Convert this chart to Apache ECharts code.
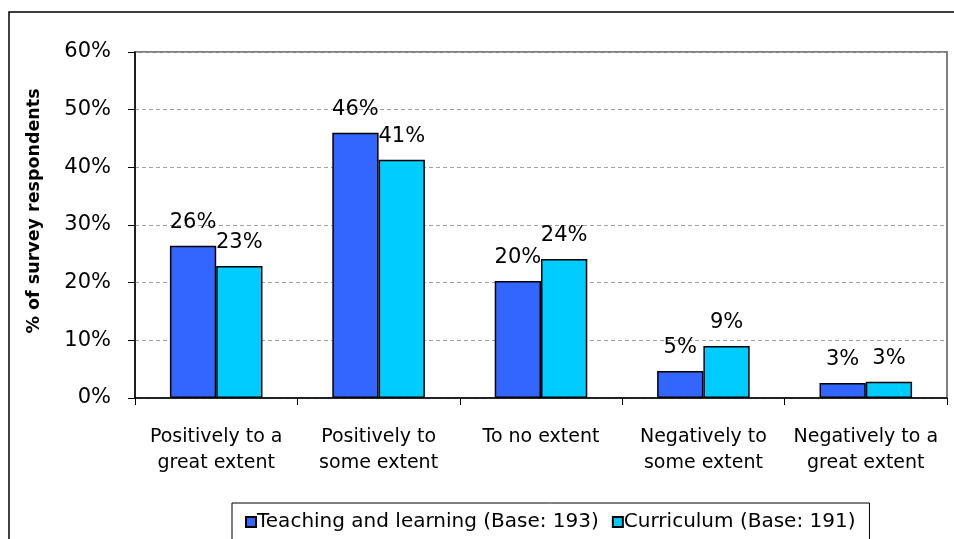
<!DOCTYPE html>
<html>
<head>
<meta charset="utf-8">
<script src="https://cdn.jsdelivr.net/npm/echarts@6/dist/echarts.min.js"></script>
<style>
  html, body { margin: 0; padding: 0; background: #fff; }
  #main { width: 954px; height: 539px; }
</style>
</head>
<body>
<div id="main"></div>
<script>
// categories and values
var categories = ['Positively to a\ngreat extent', 'Positively to\nsome extent', 'To no extent', 'Negatively to\nsome extent', 'Negatively to a\ngreat extent'];
var teachingVals = [26.4, 46.0, 20.3, 4.7, 2.6];
var curriculumVals = [22.9, 41.3, 24.1, 9.0, 2.8];
var seriesNames = ['Teaching and learning (Base: 193)', 'Curriculum (Base: 191)'];
var yTicks = [0, 10, 20, 30, 40, 50, 60];

var myChart = echarts.init(document.getElementById('main'));

var labelCfg = {
    show: true,
    position: 'top',
    distance: 13,
    color: '#000',
    fontSize: 21,
    fontFamily: 'DejaVu Sans',
    formatter: function (p) { return Math.round(p.value) + '%'; }
};

var option = {
    animation: false,
    backgroundColor: '#fff',
    textStyle: { fontFamily: 'DejaVu Sans' },
    graphic: [{
        type: 'rect',
        shape: { x: 9, y: 12, width: 980, height: 560 },
        style: { fill: 'none', stroke: '#000', lineWidth: 1.5 },
        silent: true
    }],
    grid: {
        left: 135, right: 7, top: 52, bottom: 141,
        show: true, borderColor: '#808080', borderWidth: 2
    },
    legend: {
        left: 232, top: 503,
        itemWidth: 10, itemHeight: 10, itemGap: 13,
        borderColor: '#000', borderWidth: 1,
        padding: [9, 14, 20, 13],
        textStyle: { fontSize: 20, color: '#000', fontFamily: 'DejaVu Sans', padding: [0, 0, 0, -4] },
        data: seriesNames,
        icon: 'rect'
    },
    xAxis: {
        type: 'category',
        data: categories,
        axisLine: { lineStyle: { color: '#000', width: 1.5 } },
        axisTick: { show: true, length: 7, lineStyle: { color: '#000' } },
        axisLabel: { color: '#000', fontSize: 19, lineHeight: 26, margin: 26, interval: 0 }
    },
    yAxis: {
        type: 'value',
        min: yTicks[0], max: yTicks[yTicks.length - 1], interval: 10,
        name: '% of survey respondents',
        nameLocation: 'middle',
        nameGap: 92,
        nameTextStyle: { fontSize: 17.5, fontWeight: 'bold', color: '#000', padding: [0, 0, 0, 28] },
        axisLine: { show: true, lineStyle: { color: '#000', width: 1.5 } },
        axisTick: { show: true, length: 7, lineStyle: { color: '#000' } },
        axisLabel: { color: '#000', fontSize: 21, margin: 24, formatter: '{value}%' },
        splitLine: { lineStyle: { color: '#a0a0a0', type: [4, 3] } }
    },
    series: [{
        name: seriesNames[0],
        type: 'bar',
        data: teachingVals,
        barGap: '0%',
        barCategoryGap: '43%',
        itemStyle: { color: '#3366FF', borderColor: '#000', borderWidth: 1.5 },
        label: labelCfg
    }, {
        name: seriesNames[1],
        type: 'bar',
        data: curriculumVals,
        itemStyle: { color: '#00CCFF', borderColor: '#000', borderWidth: 1.5 },
        label: labelCfg
    }]
};

myChart.setOption(option);
</script>
</body>
</html>
